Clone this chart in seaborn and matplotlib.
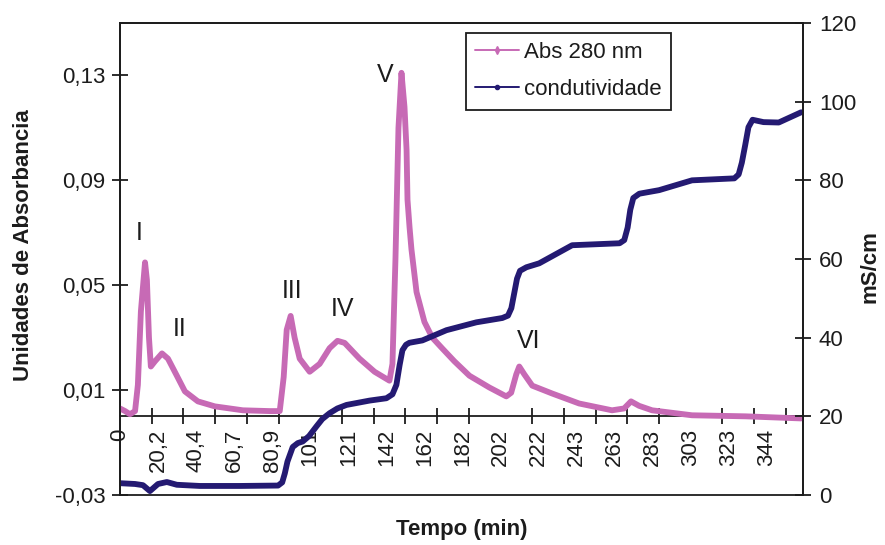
import numpy as np
import pandas as pd
import matplotlib
matplotlib.use("Agg")
import matplotlib.pyplot as plt
from matplotlib.lines import Line2D
from matplotlib.ticker import FixedLocator
import seaborn as sns

# Absorbância a 280 nm (eixo esquerdo)
abs_tempo = [0, 2.7, 5.3, 8.0, 9.5, 11.1, 13.3, 14.3, 15.4, 16.4, 18.6, 22.3,
             25.5, 30.2, 34.5, 41.4, 50.4, 65.3, 79.6, 84.9, 87.0, 88.6, 90.7,
             92.8, 95.5, 100.8, 106.1, 111.4, 115.6, 119.4, 127.3, 135.3, 143.2,
             144.8, 146.4, 148.0, 149.6, 151.2, 152.3, 152.8, 153.9, 154.9,
             157.6, 161.8, 166.0, 171.4, 177.7, 185.7, 196.3, 205.3, 207.9,
             210.6, 212.2, 214.9, 219.1, 229.7, 244.0, 261.5, 267.9, 271.6,
             275.9, 282.8, 304.0, 332.6, 362.0]
abs_valor = [0.003, 0.002, 0.0008, 0.002, 0.012, 0.040, 0.0587, 0.052, 0.030,
             0.019, 0.021, 0.024, 0.022, 0.0155, 0.0095, 0.0057, 0.0038, 0.0023,
             0.002, 0.002, 0.015, 0.033, 0.0383, 0.030, 0.022, 0.017, 0.020,
             0.026, 0.0288, 0.028, 0.022, 0.017, 0.0136, 0.020, 0.060, 0.110,
             0.131, 0.118, 0.1016, 0.0826, 0.072, 0.0637, 0.0474, 0.036, 0.030,
             0.0258, 0.021, 0.0155, 0.011, 0.0076, 0.009, 0.016, 0.019, 0.016,
             0.0117, 0.0087, 0.0049, 0.0023, 0.003, 0.0057, 0.004, 0.0023,
             0.0004, 0.0, -0.0008]

# Condutividade (eixo direito, mS/cm)
cond_tempo = [0, 8.0, 12.2, 15.9, 20.2, 24.9, 30.2, 42.4, 63.7, 84.0, 86.2,
              87.6, 89.0, 91.8, 94.5, 97.1, 100.5, 104.5, 107.5, 111.4, 115.5,
              120.4, 132.6, 141.6, 144.8, 146.9, 148.6, 150.1, 152.0, 153.8,
              160.7, 173.5, 189.4, 203.2, 206.2, 208.0, 209.6, 211.0, 212.6,
              216.0, 222.8, 240.3, 265.5, 268.0, 269.8, 271.2, 272.8, 276.0,
              286.5, 304.0, 326.5, 328.8, 330.5, 332.3, 334.0, 336.2, 342.0,
              350.1, 362.0]
cond_valor = [3.0, 2.8, 2.5, 1.0, 2.8, 3.3, 2.6, 2.3, 2.3, 2.4, 3.2, 5.5, 8.5,
              12.2, 13.2, 13.6, 15.0, 17.5, 19.3, 20.8, 22.0, 22.9, 24.0, 24.6,
              25.6, 28.0, 33.0, 36.8, 38.2, 38.7, 39.3, 41.9, 43.9, 45.0, 45.6,
              47.5, 51.5, 55.0, 57.0, 57.9, 58.9, 63.5, 64.0, 64.8, 68.0, 72.5,
              75.5, 76.6, 77.5, 80.0, 80.5, 81.5, 84.5, 89.0, 93.5, 95.4, 94.8,
              94.7, 97.3]

# Eixo de tempo: rótulos a cada 6 pontos, marcas a cada 5
tempo_rotulos = ["0", "20,2", "40,4", "60,7", "80,9", "101", "121", "142",
                 "162", "182", "202", "222", "243", "263", "283", "303",
                 "323", "344"]
tempo_passo = 20.22

abs_ticks = [-0.03, 0.01, 0.05, 0.09, 0.13]
cond_ticks = [0, 20, 40, 60, 80, 100, 120]

picos = ["I", "II", "III", "IV", "V", "VI"]

ROSA = "#C76AB5"
AZUL = "#241A72"
TINTA = "#1c1c1c"

sns.set_theme(style="white")
plt.rcParams["font.family"] = ["Liberation Sans", "DejaVu Sans"]

fig = plt.figure(figsize=(8.85, 5.45), dpi=100)
ax = fig.add_axes([120 / 885, 50 / 545, 683 / 885, 472 / 545])
ax2 = ax.twinx()

df_abs = pd.DataFrame({"tempo": abs_tempo, "abs": abs_valor})
df_cond = pd.DataFrame({"tempo": cond_tempo, "cond": cond_valor})

sns.lineplot(data=df_abs, x="tempo", y="abs", ax=ax, color=ROSA,
             linewidth=4.2, legend=False, zorder=3)
sns.lineplot(data=df_cond, x="tempo", y="cond", ax=ax2, color=AZUL,
             linewidth=4.2, legend=False)

ax.set_xlim(0, 363)
ax.set_ylim(-0.03, 0.15)
ax2.set_ylim(0, 120)

# eixo do tempo passa pelo zero da absorbância
ax.spines["bottom"].set_position(("data", 0))
for a in (ax, ax2):
    for s in a.spines.values():
        s.set_color(TINTA)
        s.set_linewidth(1.3)

ax.xaxis.set_major_locator(FixedLocator(np.arange(len(tempo_rotulos)) * tempo_passo))
ax.set_xticklabels(tempo_rotulos, rotation=90)
ax.xaxis.set_minor_locator(FixedLocator(np.arange(22) * tempo_passo * 5 / 6))
ax.tick_params(axis="x", which="major", bottom=True, length=0, pad=9,
               labelsize=16, labelcolor=TINTA)
ax.tick_params(axis="x", which="minor", bottom=True, direction="inout",
               length=11, width=1.3, color=TINTA)

ax.set_yticks(abs_ticks)
ax.set_yticklabels([f"{v:.2f}".replace(".", ",") for v in abs_ticks])
ax.tick_params(axis="y", left=True, right=False, direction="inout", length=11,
               width=1.3, color=TINTA, labelsize=16, labelcolor=TINTA, pad=5)

ax2.set_yticks(cond_ticks)
ax2.set_yticklabels([str(v) for v in cond_ticks])
ax2.tick_params(axis="y", right=True, left=False, direction="inout", length=11,
                width=1.3, color=TINTA, labelsize=16, labelcolor=TINTA, pad=6)

ax.set_xlabel("Tempo (min)", fontsize=16, fontweight="bold", color=TINTA)
ax.xaxis.set_label_coords(0.5, -0.05)
ax.set_ylabel("Unidades de Absorbancia", fontsize=16, fontweight="bold", color=TINTA)
ax.yaxis.set_label_coords(-0.126, 0.53)
ax2.set_ylabel("mS/cm", fontsize=16, fontweight="bold", color=TINTA)
ax2.yaxis.set_label_coords(1.082, 0.485)

# identificação dos picos
pos_picos = [(10.1, 0.070), (31.9, 0.0334), (91.5, 0.0478), (118.1, 0.041),
             (141.0, 0.130), (217.1, 0.0288)]
for nome, (px, py) in zip(picos, pos_picos):
    ax.text(px, py, nome, fontsize=18, color=TINTA, ha="center", va="center",
            zorder=5)

handles = [
    Line2D([], [], color=ROSA, lw=1.4, marker="d", ms=4),
    Line2D([], [], color=AZUL, lw=1.4, marker="o", ms=3),
]
leg = ax2.legend(handles, ["Abs 280 nm", "condutividade"], loc="upper left",
                 bbox_to_anchor=(0.506, 0.979), frameon=True, fancybox=False,
                 framealpha=1, edgecolor=TINTA, fontsize=16, handlelength=2.0,
                 handletextpad=0.2, borderpad=0.42, labelspacing=0.72,
                 borderaxespad=0)
leg.get_frame().set_linewidth(1.3)
for t in leg.get_texts():
    t.set_color(TINTA)

fig.savefig("out.png", dpi=100)
